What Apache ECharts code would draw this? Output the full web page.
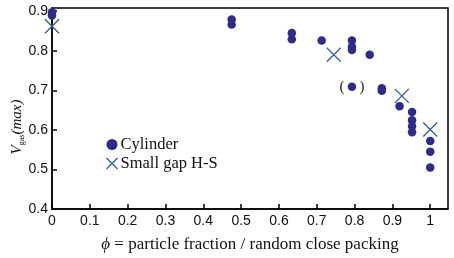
<!DOCTYPE html>
<html>
<head>
<meta charset="utf-8">
<script src="https://cdn.jsdelivr.net/npm/echarts@6/dist/echarts.min.js"></script>
<style>
  html, body { margin: 0; padding: 0; background: #fff; }
  #chart { width: 454px; height: 258px; }
</style>
</head>
<body>
<div id="chart"></div>
<script>
// cylinder points
var cylX = [0, 0, 0.475, 0.475, 0.634, 0.634, 0.713, 0.793, 0.793, 0.793, 0.84, 0.793, 0.872, 0.872, 0.919, 0.952, 0.952, 0.952, 0.952, 1, 1, 1];
var cylY = [0.897, 0.889, 0.879, 0.866, 0.845, 0.829, 0.826, 0.826, 0.81, 0.802, 0.79, 0.709, 0.705, 0.699, 0.66, 0.645, 0.624, 0.609, 0.594, 0.572, 0.545, 0.505];
var bracketed = 11; // the point shown in parentheses
// small gap H-S
var hsX = [0, 0.745, 0.925, 1];
var hsY = [0.862, 0.79, 0.686, 0.601];
var xTicks = [0, 0.1, 0.2, 0.3, 0.4, 0.5, 0.6, 0.7, 0.8, 0.9, 1];
var yTicks = [0.4, 0.5, 0.6, 0.7, 0.8, 0.9];

var dotColor = '#2e2b8e';
var crossColor = '#2c5ca6';
var cross = 'path://M0,0L10,10M10,0L0,10';

var cylData = cylX.map(function (x, i) {
  var d = { value: [x, cylY[i]] };
  if (i === bracketed) {
    d.label = {
      show: true, position: 'inside', formatter: '(\u2002\u2002)',
      fontFamily: 'Liberation Serif', fontSize: 15, color: '#222'
    };
  }
  return d;
});
var hsData = hsX.map(function (x, i) { return [x, hsY[i]]; });

var chart = echarts.init(document.getElementById('chart'));
chart.setOption({
  animation: false,
  grid: {
    left: 52, right: 6, top: 8, bottom: 47,
    show: true, borderColor: '#000', borderWidth: 1.5
  },
  legend: {
    orient: 'vertical', left: 99, top: 131, itemGap: 2,
    itemWidth: 11, itemHeight: 11,
    textStyle: { fontFamily: 'Liberation Serif', fontSize: 16.5, color: '#111', padding: [0, 0, 0, -2] },
    data: [
      { name: 'Cylinder', icon: 'circle', itemStyle: { color: dotColor } },
      { name: 'Small gap H-S', icon: cross, itemStyle: { color: 'none', borderColor: crossColor, borderWidth: 1.3 } }
    ]
  },
  xAxis: {
    type: 'value', min: 0, max: 1.047,
    name: '{i|\u03d5} = particle fraction / random close packing',
    nameLocation: 'middle', nameGap: 27,
    nameTextStyle: {
      fontFamily: 'Liberation Serif', fontSize: 17, color: '#111',
      rich: { i: { fontFamily: 'Liberation Serif', fontStyle: 'italic', fontSize: 17 } }
    },
    axisLine: { lineStyle: { color: '#000', width: 1.5 } },
    axisTick: { inside: true, length: 5, customValues: xTicks, lineStyle: { color: '#000', width: 1.5 } },
    axisLabel: { customValues: xTicks, margin: 5, fontFamily: 'Liberation Sans', fontSize: 14, color: '#111' },
    splitLine: { show: false }
  },
  yAxis: {
    type: 'value', min: 0.4, max: 0.908,
    axisLine: { lineStyle: { color: '#000', width: 1.5 } },
    axisTick: { inside: true, length: 5, customValues: yTicks, lineStyle: { color: '#000', width: 1.5 } },
    axisLabel: { customValues: yTicks, margin: 4, fontFamily: 'Liberation Sans', fontSize: 14, color: '#111',
      formatter: function (v) { return v.toFixed(1); } },
    splitLine: { show: false }
  },
  graphic: [{
    type: 'text', x: 17, y: 127, rotation: Math.PI / 2,
    style: {
      text: '{v|V}{s|gas}{m|(max)}',
      align: 'center', verticalAlign: 'middle',
      fill: '#111',
      rich: {
        v: { fontFamily: 'Liberation Serif', fontStyle: 'italic', fontSize: 15, lineHeight: 18 },
        s: { fontFamily: 'Liberation Serif', fontSize: 8, lineHeight: 18, verticalAlign: 'bottom' },
        m: { fontFamily: 'Liberation Serif', fontStyle: 'italic', fontSize: 15, lineHeight: 18 }
      }
    }
  }],
  series: [
    {
      name: 'Cylinder', type: 'scatter', symbol: 'circle', symbolSize: 8.5,
      itemStyle: { color: dotColor, opacity: 1 },
      data: cylData, z: 3
    },
    {
      name: 'Small gap H-S', type: 'scatter', symbol: cross, symbolSize: 14,
      itemStyle: { color: 'none', borderColor: crossColor, borderWidth: 1.3, opacity: 1 },
      data: hsData, z: 4
    }
  ]
});
</script>
</body>
</html>
